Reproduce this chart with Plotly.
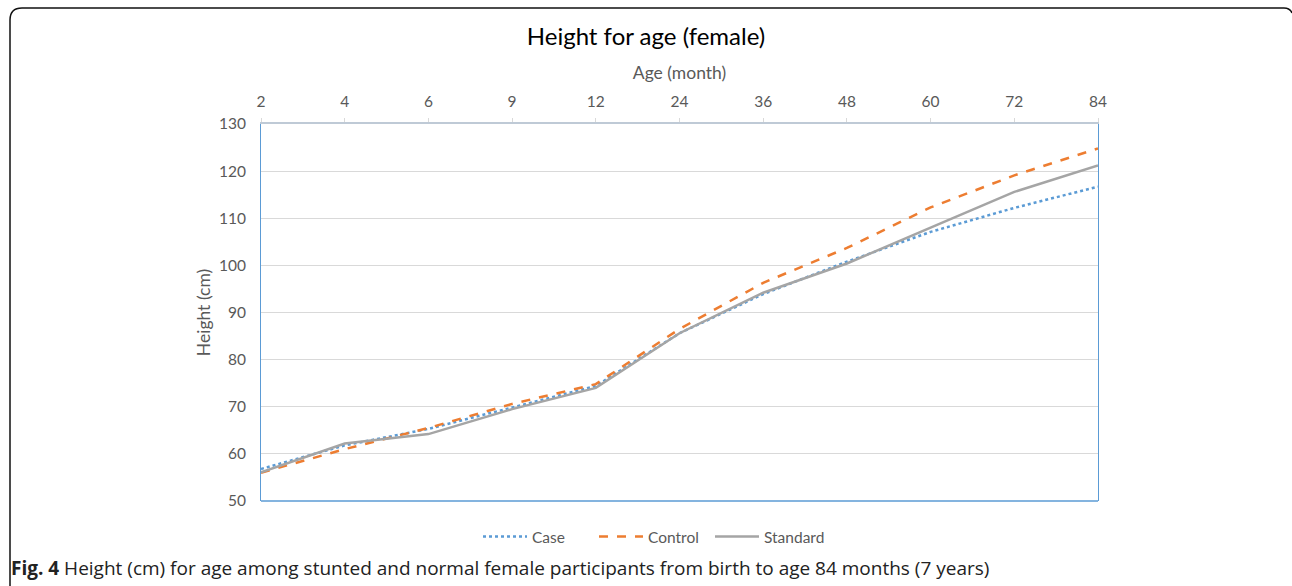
import plotly.graph_objects as go

ages = ["2", "4", "6", "9", "12", "24", "36", "48", "60", "72", "84"]
case = [56.8, 61.8, 65.3, 69.8, 74.4, 85.6, 93.9, 100.8, 107.1, 112.2, 116.7]
control = [56.0, 61.0, 65.5, 70.6, 74.8, 86.5, 96.3, 103.7, 112.3, 119.1, 124.8]
standard = [56.1, 62.2, 64.2, 69.5, 74.0, 85.6, 94.2, 100.4, 108.0, 115.6, 121.2]

W, H = 1292, 586
L, R, T, B = 261, 1098, 124, 501


def px(x):
    return (x - L) / (R - L)


def py(y):
    return (B - y) / (B - T)


fig = go.Figure()
fig.add_trace(go.Scatter(x=ages, y=case, name="Case", mode="lines",
                         line=dict(color="#5b9bd5", width=2.5, dash="dot")))
fig.add_trace(go.Scatter(x=ages, y=control, name="Control", mode="lines",
                         line=dict(color="#ed7d31", width=2.5, dash="dash")))
fig.add_trace(go.Scatter(x=ages, y=standard, name="Standard", mode="lines",
                         line=dict(color="#a5a5a5", width=2.5)))

FONT = "Lato, Calibri, sans-serif"
tickfont = dict(family=FONT, size=15.5, color="#595959")

fig.update_layout(
    width=W, height=H,
    margin=dict(l=L, r=W - R, t=T, b=H - B),
    paper_bgcolor="white", plot_bgcolor="white",
    title=dict(text="Height for age (female)", x=0.5, xref="container",
               y=1 - 37 / H, yref="container", xanchor="center", yanchor="middle",
               font=dict(family=FONT, size=24, color="#000000")),
    xaxis=dict(type="category", side="top", range=[0, 10],
               showgrid=False, showline=True, linecolor="#bfcad6", linewidth=1.5,
               ticks="outside", ticklen=4, tickcolor="#d9d9d9",
               ticklabelstandoff=5,
               tickfont=tickfont,
               title=dict(text="Age (month)", standoff=8,
                          font=dict(family=FONT, size=17.5, color="#595959"))),
    yaxis=dict(range=[50, 130], dtick=10, showgrid=True, gridcolor="#d9d9d9", gridwidth=1,
               zeroline=False, showline=True, linecolor="#5b9bd5", linewidth=1, mirror=True,
               ticks="", tickfont=tickfont, ticklabelstandoff=11,
               title=dict(text="Height (cm)", standoff=3,
                          font=dict(family=FONT, size=17.5, color="#595959"))),
    legend=dict(orientation="h", x=px(652), xanchor="center", y=py(537), yanchor="middle",
                font=dict(family=FONT, size=15.5, color="#595959"),
                itemwidth=44, entrywidth=57, bgcolor="rgba(0,0,0,0)"),
    showlegend=True,
)

# bottom border of plot area
fig.add_shape(type="line", xref="paper", yref="paper", x0=0, x1=1, y0=0, y1=0,
              line=dict(color="#5b9bd5", width=1.5), layer="above")

# outer frame
path = (f"M {px(10)},{py(586)} L {px(10)},{py(20)} "
        f"Q {px(10)},{py(8)} {px(22)},{py(8)} L {px(1284)},{py(8)} "
        f"Q {px(1290)},{py(8)} {px(1292)},{py(13)}")
fig.add_shape(type="path", xref="paper", yref="paper", path=path,
              line=dict(color="#111111", width=1.5))

fig.add_annotation(
    text="<b>Fig. 4</b> Height (cm) for age among stunted and normal female participants from birth to age 84 months (7 years)",
    xref="paper", yref="paper", x=px(9), y=py(568), xanchor="left", yanchor="middle",
    showarrow=False, font=dict(family="Open Sans, sans-serif", size=19, color="#222222"))

fig.write_html("out.html", config={"displayModeBar": False},
               post_script="document.body.style.margin='0';document.body.style.overflow='hidden';")
